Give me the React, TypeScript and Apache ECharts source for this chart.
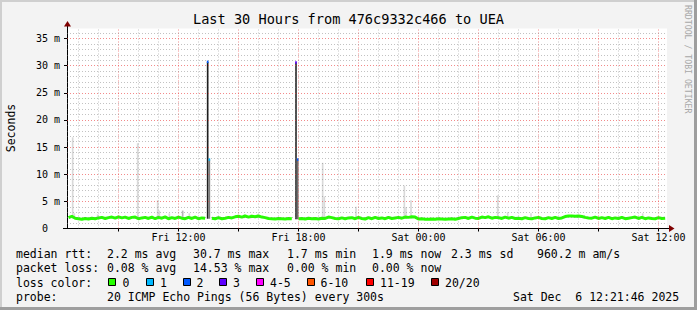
import React, { useEffect, useRef } from 'react';
import * as echarts from 'echarts';

// ---------- data ----------
const TITLE = 'Last 30 Hours from 476c9332c466 to UEA';
const START_HOUR = 6.425; // Fri 06:25:30 (hours since Fri 00:00)
const END_HOUR = 36.425; // Sat 12:25:30
const Y_MAX = 36.84; // ms
const MEDIAN_FIRST = 'Fri 06:30';
const MEDIAN_STEP_MIN = 10;
const STEP_MIN = 5;

const xLabelHours = [12, 18, 24, 30, 36];
const xTickHours = [9, 12, 15, 18, 21, 24, 27, 30, 33, 36];
const yLabelValues = [0, 5, 10, 15, 20, 25, 30, 35];

// median RTT (ms), one value every 10 minutes from Fri 06:30; null = loss step shown in another colour
const medianValues: (number | null)[] = [
  2.0, 2.25, 1.9,
  1.8, 1.7, 1.85, 1.75, 1.9, 1.8,
  1.95, 2.05, 1.85, 2.0,
  2.1, 1.9, 2.15, 1.95, 2.1, 1.85, 2.05,
  2.1, 1.8, 1.95, 2.05,
  1.85, 2.1, 1.8, 2.05, 1.9, 2.15, 1.8, 2.0,
  1.85, 2.1, 1.9, 1.8, 2.05, 1.85, 2.1, 1.8, 1.95,
  1.9,
  null,
  1.9, 1.8, 2.0, 1.8, 1.9, 2.05, 1.95,
  2.15, 2.25, 2.1, 2.3, 2.1, 2.25, 2.15, 2.3, 2.1, 2.0,
  1.85, 1.8, 1.75, 1.85, 1.8, 1.75, 1.85, 1.8,
  null,
  1.8, 1.85, 1.75, 1.9, 1.8, 1.85, 1.75, 1.9, 1.85, 2.1, 2.0, 1.85, 1.8, 1.95, 1.8, 1.95,
  2.0, 1.8, 2.05, 1.85, 1.75, 2.0, 1.8, 2.05, 1.85, 1.95, 1.8, 2.05, 1.85, 1.95, 2.05, 1.9,
  2.1, 2.05, 2.15, 2.1,
  1.75, 1.8, 1.7, 1.7, 1.75, 1.7, 1.8, 1.75, 1.7, 1.75, 1.8, 1.7,
  1.85, 2.0, 2.05, 1.85, 2.1, 1.9, 1.85, 2.1, 2.0, 2.15, 1.9, 2.05,
  2.0, 1.85, 2.1, 1.9, 2.05, 1.85,
  1.9, 1.8, 2.0, 1.85, 1.8, 1.95, 2.05, 1.85, 1.8, 2.0, 1.85, 2.05, 1.85, 1.95,
  2.2, 2.3, 2.3, 2.25, 2.3, 2.2,
  2.05, 1.95, 1.9, 2.1, 1.85, 2.0,
  1.85, 2.05, 1.8, 1.95, 1.85, 2.05, 1.8, 1.9, 2.0, 2.1, 1.85, 2.05, 1.8, 1.95, 1.85, 1.8, 2.0, 1.85, 1.9,
];

// visible smoke (ping spread) per 5-minute step
const smokeTimes = [
  'Fri 06:40', 'Fri 06:45', 'Fri 07:55', 'Fri 09:55', 'Fri 10:55', 'Fri 11:00', 'Fri 11:30',
  'Fri 12:10', 'Fri 12:30', 'Fri 13:25', 'Fri 13:30', 'Fri 15:15', 'Fri 15:35', 'Fri 15:55',
  'Fri 17:50', 'Fri 17:55', 'Fri 19:10', 'Fri 19:15', 'Fri 20:50', 'Fri 23:15', 'Fri 23:20',
  'Fri 23:35', 'Sat 03:55', 'Sat 04:25', 'Sat 05:35', 'Sat 08:15', 'Sat 11:10',
];
const smokeLow = [
  1.8, 1.8, 1.8, 1.8, 1.8, 1.8, 1.8,
  1.8, 1.8, 1.8, 1.8, 1.9, 1.9, 1.9,
  1.7, 1.7, 1.8, 1.8, 1.8, 1.8, 1.8,
  1.8, 1.8, 1.8, 1.8, 1.8, 1.8,
];
const smokeHigh = [
  16.8, 2.8, 2.6, 15.7, 5.2, 3.3, 2.8,
  3.3, 2.8, 30.7, 12.7, 2.6, 2.6, 2.6,
  30.6, 12.7, 12.1, 5.9, 4.0, 7.9, 3.9,
  5.2, 6.1, 3.0, 2.8, 2.5, 2.8,
];
const smokeShade = [
  '#d9d9d9', '#d9d9d9', '#d9d9d9', '#d9d9d9', '#d9d9d9', '#d9d9d9', '#d9d9d9',
  '#b5b5b5', '#d9d9d9', '#1e1e1e', '#7d7d7d', '#d9d9d9', '#d9d9d9', '#d9d9d9',
  '#2e2e2e', '#6e6e6e', '#d9d9d9', '#d9d9d9', '#d9d9d9', '#d9d9d9', '#d9d9d9',
  '#d9d9d9', '#d9d9d9', '#d9d9d9', '#d9d9d9', '#d9d9d9', '#d9d9d9',
];

// median steps with packet loss (coloured by loss)
const lossTimes = ['Fri 13:25', 'Fri 13:30', 'Fri 17:50', 'Fri 17:55'];
const lossValues = [30.7, 12.7, 30.6, 12.7];
const lossStepColors = ['#0059ff', '#00b8ff', '#5e00ff', '#0059ff'];

const rttStats = ['2.2 ms avg', '30.7 ms max', '1.7 ms min', '1.9 ms now', '2.3 ms sd', '960.2 m am/s'];
const lossStats = ['0.08 % avg', '14.53 % max', '0.00 % min', '0.00 % now'];
const legendLossLabels = ['0', '1', '2', '3', '4-5', '6-10', '11-19', '20/20'];
const legendLossColors = ['#26ff00', '#00b8ff', '#0059ff', '#5e00ff', '#ff00ff', '#ff5500', '#ff0000', '#a00000'];
const probeText = '20 ICMP Echo Pings (56 Bytes) every 300s';
const dateText = 'Sat Dec  6 12:21:46 2025';

// ---------- layout ----------
const MONO = '"DejaVu Sans Mono", monospace';
const statX = [107, 193, 287, 372, 451, 537];
const boxX = [108, 146, 183, 219, 256, 307, 366, 431];
const boxLabelX = [122.5, 160, 196.5, 233, 270, 320.5, 380, 445];
const rowY = [254, 268.3, 282.6, 296.9];

function parseT(s: string): number {
  const [day, hm] = s.split(' ');
  const [h, m] = hm.split(':').map(Number);
  return (day === 'Sat' ? 24 : 0) + h + m / 60;
}

function App() {
  const ref = useRef<HTMLDivElement>(null);
  useEffect(() => {
    if (!ref.current) return;
    const chart = echarts.init(ref.current, null, { renderer: 'svg' });
    const t0 = parseT(MEDIAN_FIRST);
    const minorStyle = { color: 'rgba(120,120,120,0.45)', width: 1, type: [1, 2] as any };
    const majorStyle = { color: 'rgba(235,60,60,0.6)', width: 1, type: [1, 2] as any };
    const gridLines: any[] = [];
    for (let h = 7; h <= 36; h++) gridLines.push({ xAxis: h, lineStyle: h % 3 === 0 ? majorStyle : minorStyle });
    for (let v = 1; v <= 36; v++) gridLines.push({ yAxis: v, lineStyle: v % 5 === 0 ? majorStyle : minorStyle });

    const stepRect = (heightPx: number | null) => (params: any, api: any) => {
      const t = api.value(0);
      if (heightPx === null) {
        const p0 = api.coord([t, api.value(2)]);
        const p1 = api.coord([t + STEP_MIN / 60, api.value(1)]);
        return { type: 'rect', shape: { x: p0[0], y: p0[1], width: p1[0] - p0[0], height: p1[1] - p0[1] }, style: { fill: api.visual('color') } };
      }
      const p0 = api.coord([t, api.value(1)]);
      const p1 = api.coord([t + STEP_MIN / 60, api.value(1)]);
      return { type: 'rect', shape: { x: p0[0], y: p0[1] - heightPx / 2, width: p1[0] - p0[0], height: heightPx }, style: { fill: api.visual('color') } };
    };

    const graphic: any[] = [
      { type: 'rect', shape: { x: 0, y: 0, width: 697, height: 2 }, style: { fill: '#cfcfcf' } },
      { type: 'rect', shape: { x: 0, y: 0, width: 2, height: 310 }, style: { fill: '#cfcfcf' } },
      { type: 'rect', shape: { x: 0, y: 307, width: 697, height: 3 }, style: { fill: '#9e9e9e' } },
      { type: 'rect', shape: { x: 694, y: 0, width: 3, height: 310 }, style: { fill: '#9e9e9e' } },
      { type: 'text', x: 348.5, y: 19, style: { text: TITLE, fontFamily: MONO, fontSize: 13.6, fill: '#000', align: 'center', verticalAlign: 'middle' } },
      { type: 'text', x: 11, y: 128, rotation: Math.PI / 2, style: { text: 'Seconds', fontFamily: MONO, fontSize: 11.5, fill: '#000', align: 'center', verticalAlign: 'middle' } },
      { type: 'text', x: 687.5, y: 5, rotation: -Math.PI / 2, style: { text: 'RRDTOOL / TOBI OETIKER', fontFamily: MONO, fontSize: 8.2, fill: '#a8a8a8', align: 'left', verticalAlign: 'middle' } },
      { type: 'line', shape: { x1: 67.5, y1: 28.5, x2: 67.5, y2: 24 }, style: { stroke: '#000', lineWidth: 1 } },
      { type: 'line', shape: { x1: 667, y1: 228.5, x2: 670, y2: 228.5 }, style: { stroke: '#000', lineWidth: 1 } },
      { type: 'line', shape: { x1: 63, y1: 228.5, x2: 67, y2: 228.5 }, style: { stroke: '#000', lineWidth: 1 } },
      { type: 'polygon', shape: { points: [[64, 26.5], [71, 26.5], [67.5, 21]] }, style: { fill: '#7f0000' } },
      { type: 'polygon', shape: { points: [[669, 225], [669, 232], [674.5, 228.5]] }, style: { fill: '#7f0000' } },
      { type: 'text', x: 16, y: rowY[0], style: { text: 'median rtt:', fontFamily: MONO, fontSize: 11.5, fill: '#000', verticalAlign: 'middle' } },
      { type: 'text', x: 16, y: rowY[1], style: { text: 'packet loss:', fontFamily: MONO, fontSize: 11.5, fill: '#000', verticalAlign: 'middle' } },
      { type: 'text', x: 16, y: rowY[2], style: { text: 'loss color:', fontFamily: MONO, fontSize: 11.5, fill: '#000', verticalAlign: 'middle' } },
      { type: 'text', x: 16, y: rowY[3], style: { text: 'probe:', fontFamily: MONO, fontSize: 11.5, fill: '#000', verticalAlign: 'middle' } },
      { type: 'text', x: 107, y: rowY[3], style: { text: probeText, fontFamily: MONO, fontSize: 11.5, fill: '#000', verticalAlign: 'middle' } },
      { type: 'text', x: 513, y: rowY[3], style: { text: dateText, fontFamily: MONO, fontSize: 11.5, fill: '#000', verticalAlign: 'middle' } },
    ];
    rttStats.forEach((s, i) => graphic.push({ type: 'text', x: statX[i], y: rowY[0], style: { text: s, fontFamily: MONO, fontSize: 11.5, fill: '#000', verticalAlign: 'middle' } }));
    lossStats.forEach((s, i) => graphic.push({ type: 'text', x: statX[i], y: rowY[1], style: { text: s, fontFamily: MONO, fontSize: 11.5, fill: '#000', verticalAlign: 'middle' } }));
    legendLossLabels.forEach((s, i) => {
      graphic.push({ type: 'rect', shape: { x: boxX[i] + 0.5, y: 278.5, width: 7, height: 7 }, style: { fill: legendLossColors[i], stroke: '#000', lineWidth: 1 } });
      graphic.push({ type: 'text', x: boxLabelX[i], y: rowY[2], style: { text: s, fontFamily: MONO, fontSize: 11.5, fill: '#000', verticalAlign: 'middle' } });
    });

    const option: any = {
      animation: false,
      backgroundColor: '#f3f3f3',
      grid: { left: 67, top: 28.5, width: 600, height: 200, show: true, backgroundColor: '#ffffff', borderWidth: 0 },
      xAxis: {
        type: 'value', min: START_HOUR, max: END_HOUR,
        splitLine: { show: false },
        axisLine: { show: true, lineStyle: { color: '#000', width: 1 } },
        axisTick: { show: true, customValues: xTickHours, length: 3, lineStyle: { color: '#000' } },
        axisLabel: {
          customValues: xLabelHours, margin: 4, fontFamily: MONO, fontSize: 10, color: '#000',
          formatter: (h: number) => `${h < 24 ? 'Fri' : 'Sat'} ${String(Math.round(h) % 24).padStart(2, '0')}:00`,
        },
      },
      yAxis: {
        type: 'value', min: 0, max: Y_MAX,
        splitLine: { show: false },
        axisLine: { show: true, lineStyle: { color: '#000', width: 1 } },
        axisTick: { show: true, customValues: yLabelValues, length: 3, lineStyle: { color: '#000' } },
        axisLabel: {
          customValues: yLabelValues, margin: 7, fontFamily: MONO, fontSize: 10, color: '#000',
          formatter: (v: number) => (v === 0 ? '{z|0}' : `${v} m`),
          rich: { z: { padding: [0, 12, 0, 0], fontFamily: MONO, fontSize: 10, color: '#000' } },
        },
      },
      graphic,
      series: [
        {
          type: 'line', z: 1, silent: true, data: [], symbol: 'none',
          markLine: { silent: true, symbol: ['none', 'none'], label: { show: false }, animation: false, data: gridLines },
        },
        {
          type: 'custom', z: 2, silent: true,
          renderItem: stepRect(null),
          encode: { x: 0, y: [1, 2] },
          data: smokeTimes.map((s, i) => ({ value: [parseT(s), smokeLow[i], smokeHigh[i]], itemStyle: { color: smokeShade[i] } })),
        },
        {
          type: 'line', z: 3, silent: true, symbol: 'none', connectNulls: false,
          lineStyle: { color: '#26ff00', width: 3 },
          data: medianValues.map((v, i) => [t0 + (i * MEDIAN_STEP_MIN) / 60, v === null ? '-' : v]),
        },
        {
          type: 'custom', z: 4, silent: true,
          renderItem: stepRect(2.5),
          encode: { x: 0, y: 1 },
          data: lossTimes.map((s, i) => ({ value: [parseT(s), lossValues[i]], itemStyle: { color: lossStepColors[i] } })),
        },
      ],
    };
    chart.setOption(option);
    return () => chart.dispose();
  }, []);
  return <div ref={ref} style={{ position: 'fixed', left: 0, top: 0, width: 697, height: 310 }} />;
}

export default App;
